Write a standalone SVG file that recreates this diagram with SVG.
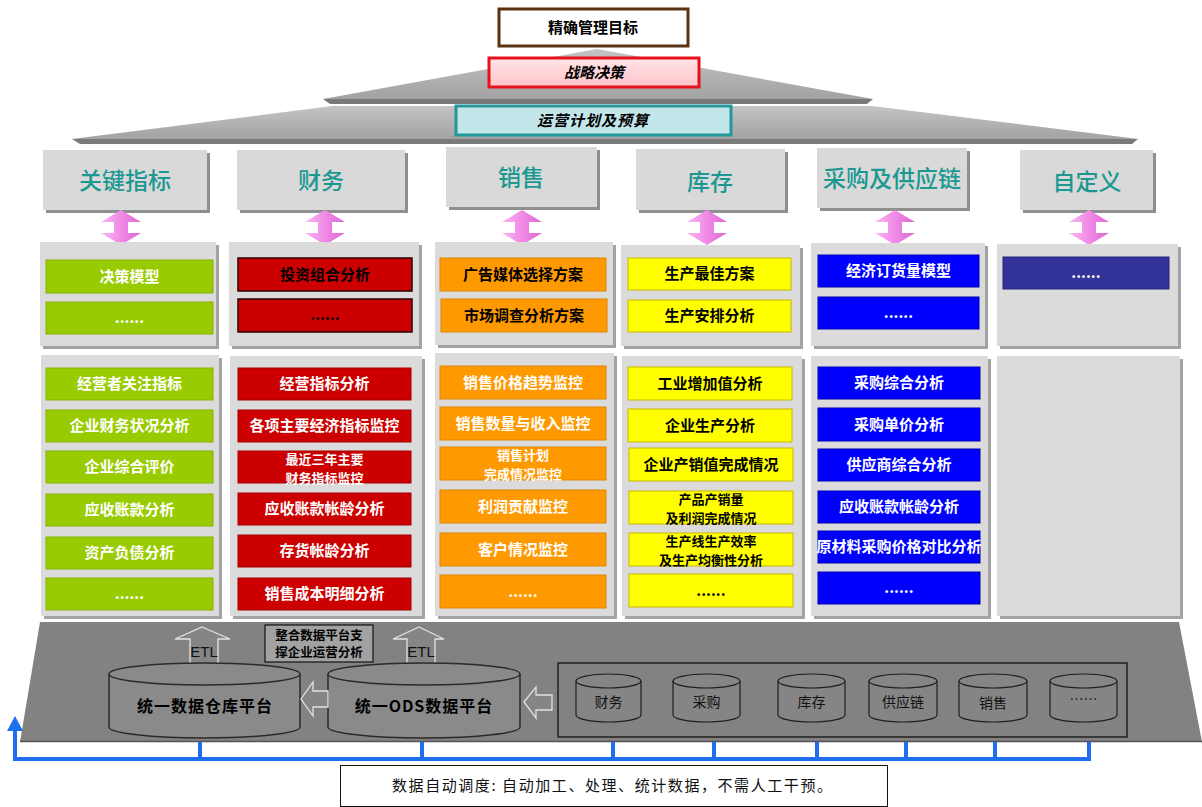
<svg xmlns="http://www.w3.org/2000/svg" width="1202" height="807" viewBox="0 0 1202 807">
<defs>
<style>
text{font-family:"Noto Sans CJK SC","Noto Sans",sans-serif;}
.hd{fill:#D9D9D9;}
.sh{fill:#8F8F8F;}
.ct{fill:#DBDBDB;}
.cs{fill:#A3A3A3;}
.ht{font-size:23px;font-weight:500;fill:#1C9893;text-anchor:middle;}
.bt{font-size:15px;font-weight:bold;text-anchor:middle;}
.b2{font-size:13px;font-weight:bold;text-anchor:middle;}
.w{fill:#FFFFFF;}
.k{fill:#000000;}
.g{fill:#99CC00;stroke:#86B300;stroke-width:1;}
.r{fill:#CC0000;stroke:#A30000;stroke-width:1;}
.rd{fill:#CC0000;stroke:#2A0000;stroke-width:1.5;}
.o{fill:#FF9900;stroke:#E08600;stroke-width:1;}
.y{fill:#FFFF00;stroke:#C9B800;stroke-width:1;}
.b{fill:#0000FF;stroke:#0000B5;stroke-width:1;}
.n{fill:#333399;stroke:#24247A;stroke-width:1;}
.cyl{fill:#8A8A8A;stroke:#2A2A2A;stroke-width:1.5;}
.scyl{fill:#858585;stroke:#1E1E1E;stroke-width:1.2;}
.hol{fill:#858585;stroke:#E2E2E2;stroke-width:1.3;}
.blue{fill:none;stroke:#1E6EF0;stroke-width:4;}
.st{font-size:14px;fill:#111;text-anchor:middle;}
.etl{font-family:"Liberation Sans",sans-serif;font-size:15px;fill:#111;text-anchor:middle;}
</style>
<linearGradient id="pk" x1="0" y1="0" x2="1" y2="0">
<stop offset="0" stop-color="#FBB6F4"/>
<stop offset="0.5" stop-color="#F08AE6"/>
<stop offset="1" stop-color="#DD66D2"/>
</linearGradient>
<linearGradient id="pinkbox" x1="0" y1="0" x2="0" y2="1">
<stop offset="0" stop-color="#FFE4E6"/>
<stop offset="1" stop-color="#FFC4CA"/>
</linearGradient>
<linearGradient id="tri" x1="0" y1="0" x2="0" y2="1">
<stop offset="0" stop-color="#C4C4C4"/>
<stop offset="1" stop-color="#A2A2A2"/>
</linearGradient>
<path id="dbl" d="M0,0 L20,12 L7,12 L7,23 L20,23 L0,35 L-20,23 L-7,23 L-7,12 L-20,12 Z"/>
</defs>

<!-- pyramid -->
<g id="pyramid">
<polygon points="597,49 873,99 323,99" fill="url(#tri)"/>
<polygon points="323,99 873,99 867,104 330,104" fill="#7A7A7A"/>
<polygon points="332,106 872,106 1138,139 72,139" fill="url(#tri)"/>
<polygon points="72,139 1138,139 1132,144 80,144" fill="#7A7A7A"/>
</g>

<g id="goal">
<rect x="499" y="9" width="189" height="37" fill="#FFFFFF" stroke="#5A3212" stroke-width="3"/>
<text x="593" y="33" font-size="15" font-weight="bold" text-anchor="middle" fill="#000">精确管理目标</text>
</g>
<g id="strategy">
<rect x="489" y="58" width="210" height="29" fill="url(#pinkbox)" stroke="#E5121E" stroke-width="3"/>
<text x="594" y="78" font-size="15" font-weight="bold" font-style="italic" text-anchor="middle" fill="#000">战略决策</text>
</g>
<g id="plan">
<rect x="456" y="106" width="275" height="29" fill="#C2E6EA" stroke="#22989A" stroke-width="3"/>
<text x="593" y="126" font-size="15" font-weight="bold" font-style="italic" text-anchor="middle" fill="#000" letter-spacing="1">运营计划及预算</text>
</g>

<!-- headers -->
<g id="h1"><rect class="sh" x="46" y="153" width="164" height="60"/><rect class="hd" x="43" y="150" width="164" height="60"/><text class="ht" x="125" y="189">关键指标</text></g>
<g id="h2"><rect class="sh" x="240" y="153" width="168" height="60"/><rect class="hd" x="237" y="150" width="168" height="60"/><text class="ht" x="321" y="189">财务</text></g>
<g id="h3"><rect class="sh" x="449" y="150" width="151" height="60"/><rect class="hd" x="446" y="147" width="151" height="60"/><text class="ht" x="521" y="186">销售</text></g>
<g id="h4"><rect class="sh" x="639" y="152" width="149" height="61"/><rect class="hd" x="636" y="149" width="149" height="61"/><text class="ht" x="710" y="190">库存</text></g>
<g id="h5"><rect class="sh" x="820" y="151" width="150" height="60"/><rect class="hd" x="817" y="148" width="150" height="60"/><text class="ht" x="892" y="187">采购及供应链</text></g>
<g id="h6"><rect class="sh" x="1023" y="153" width="133" height="60"/><rect class="hd" x="1020" y="150" width="133" height="60"/><text class="ht" x="1087" y="190">自定义</text></g>

<!-- pink double arrows -->
<g id="links" fill="url(#pk)">
<use href="#dbl" x="121" y="210"/>
<use href="#dbl" x="325" y="210"/>
<use href="#dbl" x="522" y="210"/>
<use href="#dbl" x="707" y="210"/>
<use href="#dbl" x="895" y="210"/>
<use href="#dbl" x="1089" y="210"/>
</g>

<!-- upper panels -->
<g id="u1">
<rect class="cs" x="43" y="245" width="176" height="104"/><rect class="ct" x="40" y="242" width="176" height="104"/>
<rect class="g" x="46" y="260" width="167" height="33"/><text class="bt w" x="129.5" y="282">决策模型</text>
<rect class="g" x="46" y="302" width="167" height="32"/><text class="bt w" x="129.5" y="323">......</text>
</g>
<g id="u2">
<rect class="cs" x="232" y="245" width="190" height="104"/><rect class="ct" x="229" y="242" width="190" height="104"/>
<rect class="rd" x="238" y="258" width="174" height="33"/><text class="bt k" x="325" y="280">投资组合分析</text>
<rect class="rd" x="238" y="299" width="174" height="33"/><text class="bt k" x="325" y="320">......</text>
</g>
<g id="u3">
<rect class="cs" x="438" y="245" width="178" height="103"/><rect class="ct" x="435" y="242" width="178" height="103"/>
<rect class="o" x="440" y="258" width="166" height="33"/><text class="bt k" x="523" y="280">广告媒体选择方案</text>
<rect class="o" x="441" y="299" width="166" height="33"/><text class="bt k" x="524" y="321">市场调查分析方案</text>
</g>
<g id="u4">
<rect class="cs" x="624" y="248" width="179" height="101"/><rect class="ct" x="621" y="245" width="179" height="101"/>
<rect class="y" x="628" y="258" width="163" height="32"/><text class="bt k" x="709.5" y="279">生产最佳方案</text>
<rect class="y" x="628" y="300" width="163" height="32"/><text class="bt k" x="709.5" y="321">生产安排分析</text>
</g>
<g id="u5">
<rect class="cs" x="814" y="246" width="174" height="103"/><rect class="ct" x="811" y="243" width="174" height="103"/>
<rect class="b" x="818" y="255" width="161" height="32"/><text class="bt w" x="898.5" y="276">经济订货量模型</text>
<rect class="b" x="818" y="297" width="161" height="32"/><text class="bt w" x="898.5" y="318">......</text>
</g>
<g id="u6">
<rect class="cs" x="1000" y="247" width="181" height="102"/><rect class="ct" x="997" y="244" width="181" height="102"/>
<rect class="n" x="1003" y="257" width="166" height="32"/><text class="bt w" x="1086" y="278">......</text>
</g>

<!-- lower panels -->
<g id="l1">
<rect class="cs" x="44" y="358" width="178" height="261"/><rect class="ct" x="41" y="355" width="178" height="261"/>
<rect class="g" x="46" y="368" width="167" height="32"/><text class="bt w" x="129.5" y="389">经营者关注指标</text>
<rect class="g" x="46" y="410" width="167" height="32"/><text class="bt w" x="129.5" y="431">企业财务状况分析</text>
<rect class="g" x="46" y="451" width="167" height="32"/><text class="bt w" x="129.5" y="472">企业综合评价</text>
<rect class="g" x="46" y="494" width="167" height="32"/><text class="bt w" x="129.5" y="515">应收账款分析</text>
<rect class="g" x="46" y="537" width="167" height="32"/><text class="bt w" x="129.5" y="558">资产负债分析</text>
<rect class="g" x="46" y="578" width="167" height="32"/><text class="bt w" x="129.5" y="599">......</text>
</g>
<g id="l2">
<rect class="cs" x="233" y="359" width="192" height="260"/><rect class="ct" x="230" y="356" width="192" height="260"/>
<rect class="r" x="238" y="368" width="173" height="32"/><text class="bt w" x="324.5" y="389">经营指标分析</text>
<rect class="r" x="238" y="410" width="173" height="32"/><text class="bt w" x="324.5" y="431">各项主要经济指标监控</text>
<rect class="r" x="238" y="451" width="173" height="32"/><text class="b2 w" x="324.5" y="464">最近三年主要<tspan x="324.5" dy="19">财务指标监控</tspan></text>
<rect class="r" x="238" y="493" width="173" height="32"/><text class="bt w" x="324.5" y="514">应收账款帐龄分析</text>
<rect class="r" x="238" y="535" width="173" height="32"/><text class="bt w" x="324.5" y="556">存货帐龄分析</text>
<rect class="r" x="238" y="578" width="173" height="32"/><text class="bt w" x="324.5" y="599">销售成本明细分析</text>
</g>
<g id="l3">
<rect class="cs" x="438" y="356" width="179" height="263"/><rect class="ct" x="435" y="353" width="179" height="263"/>
<rect class="o" x="440" y="366" width="166" height="33"/><text class="bt w" x="523" y="388">销售价格趋势监控</text>
<rect class="o" x="440" y="407" width="166" height="33"/><text class="bt w" x="523" y="429">销售数量与收入监控</text>
<rect class="o" x="440" y="447" width="166" height="33"/><text class="b2 w" x="523" y="460">销售计划<tspan x="523" dy="19">完成情况监控</tspan></text>
<rect class="o" x="440" y="490" width="166" height="33"/><text class="bt w" x="523" y="512">利润贡献监控</text>
<rect class="o" x="440" y="533" width="166" height="33"/><text class="bt w" x="523" y="555">客户情况监控</text>
<rect class="o" x="440" y="575" width="166" height="33"/><text class="bt w" x="523" y="597">......</text>
</g>
<g id="l4">
<rect class="cs" x="625" y="359" width="180" height="260"/><rect class="ct" x="622" y="356" width="180" height="260"/>
<rect class="y" x="628" y="367" width="164" height="33"/><text class="bt k" x="710" y="389">工业增加值分析</text>
<rect class="y" x="628" y="409" width="164" height="33"/><text class="bt k" x="710" y="431">企业生产分析</text>
<rect class="y" x="629" y="448" width="164" height="33"/><text class="bt k" x="711" y="470">企业产销值完成情况</text>
<rect class="y" x="629" y="491" width="164" height="33"/><text class="b2 k" x="711" y="504">产品产销量<tspan x="711" dy="19">及利润完成情况</tspan></text>
<rect class="y" x="629" y="533" width="164" height="33"/><text class="b2 k" x="711" y="546">生产线生产效率<tspan x="711" dy="19">及生产均衡性分析</tspan></text>
<rect class="y" x="629" y="574" width="164" height="33"/><text class="bt k" x="711" y="596">......</text>
</g>
<g id="l5">
<rect class="cs" x="814" y="359" width="177" height="260"/><rect class="ct" x="811" y="356" width="177" height="260"/>
<rect class="b" x="818" y="367" width="162" height="32"/><text class="bt w" x="899" y="388">采购综合分析</text>
<rect class="b" x="818" y="408" width="162" height="33"/><text class="bt w" x="899" y="430">采购单价分析</text>
<rect class="b" x="818" y="449" width="162" height="32"/><text class="bt w" x="899" y="470">供应商综合分析</text>
<rect class="b" x="818" y="491" width="162" height="32"/><text class="bt w" x="899" y="512">应收账款帐龄分析</text>
<rect class="b" x="818" y="531" width="162" height="32"/><text class="bt w" x="899" y="552">原材料采购价格对比分析</text>
<rect class="b" x="818" y="572" width="162" height="32"/><text class="bt w" x="899" y="593">......</text>
</g>
<g id="l6">
<rect class="cs" x="1000" y="359" width="183" height="260"/><rect class="ct" x="997" y="356" width="183" height="260"/>
</g>

<!-- data platform -->
<g id="platform">
<polygon points="40,622 1179,622 1202,742 20,742" fill="#828282"/>
<line x1="20" y1="741.5" x2="1202" y2="741.5" stroke="#555" stroke-width="1.5"/>
</g>

<g id="etl1">
<path class="hol" d="M202,627 L230,639 L218,639 L218,672 L190,672 L190,639 L175,639 Z"/>
<text class="etl" x="204" y="657">ETL</text>
</g>
<g id="etl2">
<path class="hol" d="M419,627 L444,639 L435,639 L435,672 L407,672 L407,639 L393,639 Z"/>
<text class="etl" x="421" y="657">ETL</text>
</g>

<g id="note1">
<rect x="265" y="625" width="108" height="37" fill="#A2A2A2" stroke="#111" stroke-width="1.2"/>
<text x="319" y="640" font-size="12.5" font-weight="bold" text-anchor="middle" fill="#000">整合数据平台支<tspan x="319" dy="17">撑企业运营分析</tspan></text>
</g>

<g id="dw">
<path class="cyl" d="M109,674 A95.5,11 0 0 1 300,674 L300,727 A95.5,11 0 0 1 109,727 Z"/>
<path d="M109,674 A95.5,11 0 0 0 300,674" fill="none" stroke="#2A2A2A" stroke-width="1.5"/>
<text x="205" y="712" font-size="16" font-weight="bold" text-anchor="middle" fill="#000" letter-spacing="1">统一数据仓库平台</text>
</g>
<g id="ods">
<path class="cyl" d="M328,674 A96,11 0 0 1 520,674 L520,727 A96,11 0 0 1 328,727 Z"/>
<path d="M328,674 A96,11 0 0 0 520,674" fill="none" stroke="#2A2A2A" stroke-width="1.5"/>
<text x="424" y="712" font-size="16" font-weight="bold" text-anchor="middle" fill="#000" letter-spacing="1">统一ODS数据平台</text>
</g>

<g id="arrows">
<path class="hol" d="M301,699 L313,682 L313,691 L328,691 L328,707 L313,707 L313,716 Z"/>
<path class="hol" d="M524,702 L536,687 L536,695 L552,695 L552,710 L536,710 L536,718 Z"/>
</g>

<g id="sources">
<rect x="558" y="663" width="569" height="74" fill="none" stroke="#111" stroke-width="1.3"/>
<g id="s1"><path class="scyl" d="M576,681 A32.5,7 0 0 1 641,681 L641,715 A32.5,7 0 0 1 576,715 Z"/><path d="M576,681 A32.5,7 0 0 0 641,681" fill="none" stroke="#1E1E1E" stroke-width="1.2"/><text class="st" x="608.5" y="707">财务</text></g>
<g id="s2"><path class="scyl" d="M673,681 A33.5,7 0 0 1 740,681 L740,715 A33.5,7 0 0 1 673,715 Z"/><path d="M673,681 A33.5,7 0 0 0 740,681" fill="none" stroke="#1E1E1E" stroke-width="1.2"/><text class="st" x="706.5" y="707">采购</text></g>
<g id="s3"><path class="scyl" d="M778,681 A33.5,7 0 0 1 845,681 L845,715 A33.5,7 0 0 1 778,715 Z"/><path d="M778,681 A33.5,7 0 0 0 845,681" fill="none" stroke="#1E1E1E" stroke-width="1.2"/><text class="st" x="811.5" y="707">库存</text></g>
<g id="s4"><path class="scyl" d="M869,681 A34,7 0 0 1 937,681 L937,715 A34,7 0 0 1 869,715 Z"/><path d="M869,681 A34,7 0 0 0 937,681" fill="none" stroke="#1E1E1E" stroke-width="1.2"/><text class="st" x="903" y="707">供应链</text></g>
<g id="s5"><path class="scyl" d="M959,681 A34,7 0 0 1 1027,681 L1027,715 A34,7 0 0 1 959,715 Z"/><path d="M959,681 A34,7 0 0 0 1027,681" fill="none" stroke="#1E1E1E" stroke-width="1.2"/><text class="st" x="993" y="708">销售</text></g>
<g id="s6"><path class="scyl" d="M1050,681 A33.5,7 0 0 1 1117,681 L1117,715 A33.5,7 0 0 1 1050,715 Z"/><path d="M1050,681 A33.5,7 0 0 0 1117,681" fill="none" stroke="#1E1E1E" stroke-width="1.2"/><text class="st" x="1083.5" y="704">……</text></g>
</g>

<!-- blue scheduling connectors -->
<g id="connectors">
<path class="blue" d="M15,759 L1089,759 M200,742 L200,759 M422,742 L422,759 M613,742 L613,759 M714,742 L714,759 M817,742 L817,759 M906,742 L906,759 M995,742 L995,759 M1089,742 L1089,761 M15,761 L15,728"/>
<polygon points="15,716 7,731 23,731" fill="#1E6EF0"/>
</g>

<g id="schedule-note">
<rect x="340.5" y="765.5" width="547" height="41" fill="#FFFFFF" stroke="#111" stroke-width="1"/>
<text x="392" y="791" font-size="15" fill="#111" textLength="440" lengthAdjust="spacing">数据自动调度: 自动加工、处理、统计数据，不需人工干预。</text>
</g>
</svg>
